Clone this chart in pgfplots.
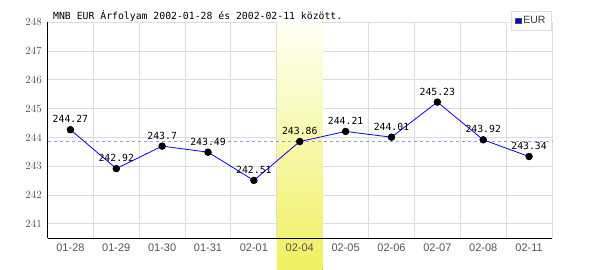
\documentclass[border=0pt]{standalone}
\usepackage{pgfplots}
\pgfplotsset{compat=1.18}
\usepackage{fontspec}
\setmainfont{Liberation Sans}
\newfontfamily\monofont{DejaVu Sans Mono}
\definecolor{gridgray}{HTML}{DDDDDD}
\definecolor{tickgray}{HTML}{555555}
\definecolor{avgline}{HTML}{9999EE}
\definecolor{bandtop}{HTML}{FFFFF2}
\definecolor{bandbot}{HTML}{F0F060}
\begin{document}
\begin{tikzpicture}
\begin{axis}[
  set layers=standard,
  scale only axis,
  width=504.5pt, height=216pt,
  at={(0,0)}, anchor=south west,
  xmin=-0.5, xmax=10.5, ymin=240.5, ymax=248,
  clip=false,
  xtick={0,...,10},
  xticklabels={01-28,01-29,01-30,01-31,02-01,02-04,02-05,02-06,02-07,02-08,02-11},
  ytick={241,...,248},
  minor xtick={0.5,1.5,...,10.5},
  ymajorgrids, xminorgrids,
  major grid style={gridgray, line width=1pt},
  minor grid style={gridgray, line width=1pt},
  major tick length=0pt, minor tick length=0pt,
  axis line style={draw=none},
  tick label style={font=\fontsize{11}{13}\selectfont, text=tickgray, inner sep=0pt},
  yticklabel style={xshift=-5.5pt},
  xticklabel style={yshift=-5.5pt},
  legend style={at={(1,1)}, anchor=north east, yshift=11.6pt,
    draw=gridgray, line width=1pt, font=\fontsize{10.5}{12}\selectfont,
    text=tickgray!70!black, inner xsep=4pt, inner ysep=3.5pt},
]
\begin{pgfonlayer}{axis ticks}
\fill[top color=bandtop, bottom color=bandbot]
  ([yshift=-31.7pt]axis cs:4.5,240.5) rectangle (axis cs:5.5,248);
\end{pgfonlayer}
\draw[black, line width=1pt] (rel axis cs:0,0) -- (rel axis cs:1,0);
\draw[black, line width=1pt] (rel axis cs:0,0) -- (rel axis cs:0,1);
\addplot[color=avgline, line width=0.8pt, dash pattern=on 3pt off 3pt, forget plot]
  coordinates {(-0.5,243.88) (10.5,243.88)};
\addplot[color=blue, line width=0.8pt, mark=*, mark size=3.3pt,
  mark options={black, fill=black, solid},
  point meta=explicit symbolic, nodes near coords,
  nodes near coords style={font=\monofont\fontsize{9.8}{12}\selectfont, text=black,
    anchor=south, inner sep=0pt, yshift=6.5pt},
  forget plot]
  coordinates {
  (0,244.27) [244.27]
  (1,242.92) [242.92]
  (2,243.7) [243.7]
  (3,243.49) [243.49]
  (4,242.51) [242.51]
  (5,243.86) [243.86]
  (6,244.21) [244.21]
  (7,244.01) [244.01]
  (8,245.23) [245.23]
  (9,243.92) [243.92]
  (10,243.34) [243.34]
  };
\addlegendimage{legend image code/.code={\fill[blue, draw=black!70, line width=0.6pt] (0pt,-2.7pt) rectangle (5.4pt,2.7pt);}}
\addlegendentry{EUR}
\node[anchor=base west, inner sep=0pt, font=\monofont\fontsize{9.8}{12}\selectfont]
  at ([xshift=5.5pt, yshift=3pt]rel axis cs:0,1)
  {MNB EUR Árfolyam 2002-01-28 és 2002-02-11 között.};
\end{axis}
\pgfresetboundingbox
\useasboundingbox (-47.5pt,-31.7pt) rectangle (552.5pt,238.3pt);
\end{tikzpicture}
\end{document}
